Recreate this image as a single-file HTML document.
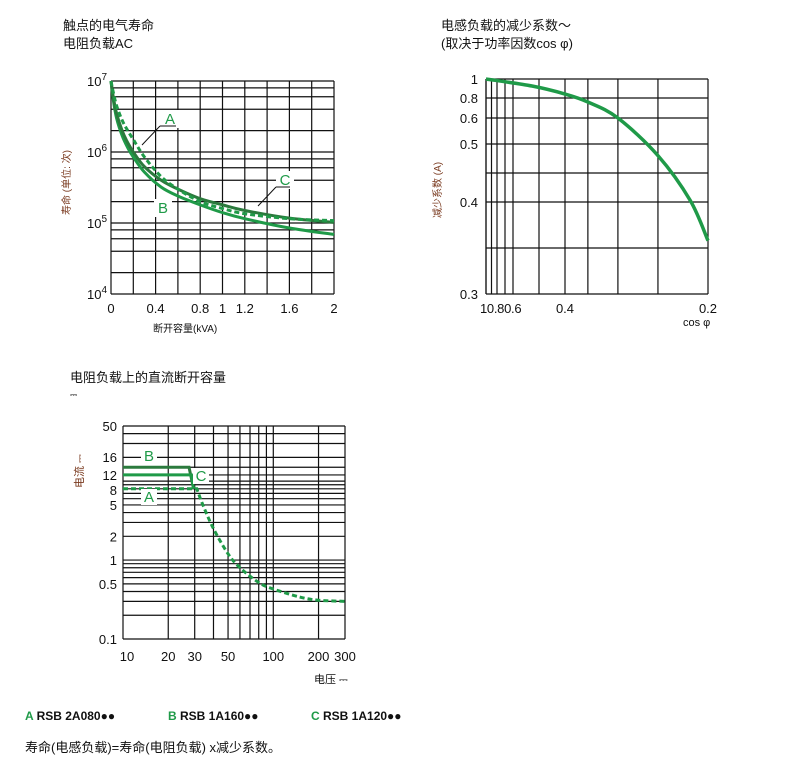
<!DOCTYPE html>
<html><head><meta charset="utf-8">
<style>
body{margin:0;background:#fff;width:800px;height:772px;overflow:hidden;font-family:"Liberation Sans","Noto Sans CJK SC",sans-serif;}
svg{position:absolute;left:0;top:0}
text{font-family:"Liberation Sans","Noto Sans CJK SC",sans-serif;}
</style></head>
<body>
<svg id="s" width="800" height="772">
<g font-size="13" fill="#111">
<text x="63" y="30">触点的电气寿命</text>
<text x="63" y="48">电阻负载AC</text>
<text x="441" y="30">电感负载的减少系数～</text>
<text x="441" y="48">(取决于功率因数cos φ)</text>
<text x="70" y="382">电阻负载上的直流断开容量</text>
<text x="70" y="398" font-size="9">⎓</text>
<text x="153" y="332" font-size="10">断开容量(kVA)</text>
<text x="683" y="326" font-size="11">cos φ</text>
<text x="314" y="683" font-size="11">电压 ⎓</text>
<text transform="translate(70,215) rotate(-90)" font-size="10" fill="#7a3a1f">寿命 (单位: 次)</text>
<text transform="translate(441,218) rotate(-90)" font-size="10" fill="#7a3a1f">减少系数 (A)</text>
<text transform="translate(83,488) rotate(-90)" font-size="11" fill="#7a3a1f">电流 ⎓</text>
</g>
<g font-size="12" font-weight="bold" fill="#111">
<text x="25" y="720"><tspan fill="#1f9a48">A</tspan> RSB 2A080●●</text>
<text x="168" y="720"><tspan fill="#1f9a48">B</tspan> RSB 1A160●●</text>
<text x="311" y="720"><tspan fill="#1f9a48">C</tspan> RSB 1A120●●</text>
</g>
<text x="25" y="752" font-size="13" fill="#111">寿命(电感负载)=寿命(电阻负载) x减少系数。</text>
<g id="c1"></g>
<g id="c2"></g>
<g id="c3"></g>
</svg>
<script>
// Chart 1 data
const c1XTicks=[0,0.4,0.8,1,1.2,1.6,2];
const c1XGrid=[0,0.2,0.4,0.6,0.8,1,1.2,1.4,1.6,1.8,2];
const c1X=[0,0.02,0.05,0.1,0.15,0.2,0.3,0.45,0.6,0.8,1.0,1.2,1.6,2.0];
const c1C=[1e7,6e6,3.5e6,2e6,1.35e6,1e6,6.2e5,4e5,3e5,2.2e5,1.8e5,1.5e5,1.17e5,1.02e5];
const c1B=[1e7,5.5e6,3e6,1.7e6,1.15e6,8.5e5,5.2e5,3.2e5,2.4e5,1.8e5,1.4e5,1.15e5,8.5e4,6.9e4];
const c1A=[1e7,7e6,4.5e6,2.8e6,2e6,1.5e6,8.5e5,4.5e5,3e5,2e5,1.6e5,1.35e5,1.15e5,1.08e5];
// Chart 2 data
const c2XTicks=[0.4,0.2];
const c2XGrid=[1,0.9,0.8,0.7,0.6,0.5,0.4,0.368,0.326,0.27,0.2];
const c2YTicks=[1,0.8,0.6,0.5,0.4,0.3];
const c2YGrid=[1,0.8,0.6,0.5,0.45,0.4,0.35,0.3];
const c2Cos=[1,0.527,0.4,0.368,0.326,0.27,0.225,0.2];
const c2Fac=[1,0.926,0.842,0.76,0.6,0.48,0.403,0.358];
// Chart 3 data
const c3XTicks=[10,20,30,50,100,200,300];
const c3XGrid=[10,20,30,40,50,60,70,80,90,100,200,300];
const c3YTicks=[50,16,12,8,5,2,1,0.5,0.1];
const c3YGrid=[50,40,30,20,15,12,10,9,8,7,6,5,4,3,2,1,0.9,0.8,0.7,0.6,0.5,0.4,0.3,0.2,0.1];
const c3AV=[10,31,34,40,50,60,80,100,150,200,300];
const c3AI=[8,8,5,2.5,1.2,0.8,0.52,0.43,0.34,0.31,0.3];
const c3BV=[10,27.5,29.5];
const c3BI=[15,15,8];
const c3CV=[10,28.5,29.5];
const c3CI=[12,12,8];

const NS="http://www.w3.org/2000/svg";
function mk(p,tag,at){const e=document.createElementNS(NS,tag);for(const k in at)e.setAttribute(k,at[k]);p.appendChild(e);return e;}
function pw(v,vs,ps){for(let i=0;i<vs.length-1;i++){const a=vs[i],b=vs[i+1];if((v-a)*(v-b)<=0){return ps[i]+(ps[i+1]-ps[i])*(v-a)/(b-a);}}return ps[ps.length-1];}
function smooth(pts){let d='M'+pts[0][0]+','+pts[0][1];for(let i=0;i<pts.length-1;i++){const p0=pts[i-1]||pts[i],p1=pts[i],p2=pts[i+1],p3=pts[i+2]||p2;
const c1=[p1[0]+(p2[0]-p0[0])/6,p1[1]+(p2[1]-p0[1])/6],c2=[p2[0]-(p3[0]-p1[0])/6,p2[1]-(p3[1]-p1[1])/6];
d+='C'+c1[0]+','+c1[1]+' '+c2[0]+','+c2[1]+' '+p2[0]+','+p2[1];}return d;}
const GREEN="#1f9a48",DARK="#2b7a3d";

// ---- chart 1
(function(){
const g=document.getElementById('c1');
const L=111,R=334,T=81,B=294;
const x=v=>L+(R-L)*v/2;
const y=v=>B-(B-T)*(Math.log10(v)-4)/3;
c1XGrid.forEach(v=>{const l=mk(g,'line',{x1:x(v),x2:x(v),y1:T,y2:B,stroke:'#111','stroke-width':1.2});

});
for(let d=4;d<7;d++)[1,2,4,6,8].forEach(m=>{const v=m*Math.pow(10,d);const l=mk(g,'line',{x1:L,x2:R,y1:y(v),y2:y(v),stroke:'#111','stroke-width':1.2});

});
mk(g,'line',{x1:L,x2:R,y1:T,y2:T,stroke:'#111','stroke-width':1.2});
c1XTicks.forEach(v=>{const t=mk(g,'text',{x:x(v),y:B+19,'text-anchor':'middle','font-size':13,fill:'#111'});t.textContent=v;

});
[4,5,6,7].forEach(d=>{const t=mk(g,'text',{x:L-4,y:y(Math.pow(10,d))+5,'text-anchor':'end','font-size':13,fill:'#111'});t.innerHTML='10<tspan dy="-6" font-size="10">'+d+'</tspan>';

});
function line(ys,col,dash,name){const pts=c1X.map((v,i)=>[x(v),y(ys[i])]);const p=mk(g,'path',{d:smooth(pts),fill:'none',stroke:col,'stroke-width':3,'stroke-dasharray':dash||''});

}
line(c1B,GREEN,'','c1-series-b');
line(c1C,DARK,'','c1-series-c');
line(c1A,GREEN,'5,3','c1-series-a');
[['A',170,124],['B',163,213],['C',285,185]].forEach(a=>{mk(g,'rect',{x:a[1]-9,y:a[2]-14,width:18,height:18,fill:'#fff'});const t=mk(g,'text',{x:a[1],y:a[2],'text-anchor':'middle','font-size':15,fill:GREEN});t.textContent=a[0];

});
mk(g,'path',{d:'M160,126 L176,126 M160,126 L142,145',stroke:'#111',fill:'none','stroke-width':1});
mk(g,'path',{d:'M276,187 L290,187 M276,187 L258,206',stroke:'#111',fill:'none','stroke-width':1});
})();

// ---- chart 2
(function(){
const g=document.getElementById('c2');
const L=486,R=708,T=79,B=294;
const xs=[1,0.8,0.6,0.4,0.2],xp=[486,497,513,565,708];
const ysV=[1,0.8,0.6,0.5,0.4,0.3],ysP=[79,98,118,144,202,294];
const x=v=>pw(v,xs,xp),y=v=>pw(v,ysV,ysP);
c2XGrid.forEach(v=>{const l=mk(g,'line',{x1:x(v),x2:x(v),y1:T,y2:B,stroke:'#111','stroke-width':1.2});

});
c2YGrid.forEach(v=>{const l=mk(g,'line',{x1:L,x2:R,y1:y(v),y2:y(v),stroke:'#111','stroke-width':1.2});

});
mk(g,'line',{x1:L,x2:L,y1:T,y2:B,stroke:'#111','stroke-width':1.2});
c2YTicks.forEach(v=>{const t=mk(g,'text',{x:L-8,y:y(v)+5,'text-anchor':'end','font-size':13,fill:'#111'});t.textContent=v;

});
const t0=mk(g,'text',{x:480,y:B+19,'font-size':13,fill:'#111','letter-spacing':'-0.3'});t0.textContent='10.80.6';


c2XTicks.forEach(v=>{const t=mk(g,'text',{x:x(v),y:B+19,'text-anchor':'middle','font-size':13,fill:'#111'});t.textContent=v;

});
const pts=c2Cos.map((v,i)=>[x(v),y(c2Fac[i])]);
const p=mk(g,'path',{d:smooth(pts),fill:'none',stroke:GREEN,'stroke-width':3.5,'stroke-linejoin':'round'});


})();

// ---- chart 3
(function(){
const g=document.getElementById('c3');
const L=123,R=345,T=426,B=639;
const x=v=>L+(R-L)*(Math.log10(v)-1)/Math.log10(30);
const y=v=>B-(B-T)*(Math.log10(v)+1)/Math.log10(500);
c3XGrid.forEach(v=>{const l=mk(g,'line',{x1:x(v),x2:x(v),y1:T,y2:B,stroke:'#111','stroke-width':1.2});

});
c3YGrid.forEach(v=>{const l=mk(g,'line',{x1:L,x2:R,y1:y(v),y2:y(v),stroke:'#111','stroke-width':1.2});

});
c3XTicks.forEach(v=>{const t=mk(g,'text',{x:x(v)+(v==10?4:0),y:B+22,'text-anchor':'middle','font-size':13,fill:'#111'});t.textContent=v;

});
c3YTicks.forEach(v=>{const t=mk(g,'text',{x:L-6,y:y(v)+(v==16?-3:v==8?6:5),'text-anchor':'end','font-size':13,fill:'#111'});t.textContent=v;

});
function line(xv,yv,col,dash,name,sm){const pts=xv.map((v,i)=>[x(v),y(yv[i])]);let d;
if(sm){d='M'+pts[0][0]+','+pts[0][1]+smooth(pts.slice(1)).replace('M','L');}else{d=pts.map((q,i)=>(i?'L':'M')+q[0]+','+q[1]).join('');}
const p=mk(g,'path',{d:d,fill:'none',stroke:col,'stroke-width':3,'stroke-dasharray':dash||''});

}
line(c3BV,c3BI,DARK,'','c3-series-b',false);
line(c3CV,c3CI,GREEN,'','c3-series-c',false);
line(c3AV,c3AI,GREEN,'5,3','c3-series-a',true);
[['B',149,461],['C',201,481],['A',149,502]].forEach(a=>{mk(g,'rect',{x:a[1]-8,y:a[2]-13,width:16,height:16,fill:'#fff'});const t=mk(g,'text',{x:a[1],y:a[2],'text-anchor':'middle','font-size':15,fill:GREEN});t.textContent=a[0];

});
})();
</script>
</body></html>
